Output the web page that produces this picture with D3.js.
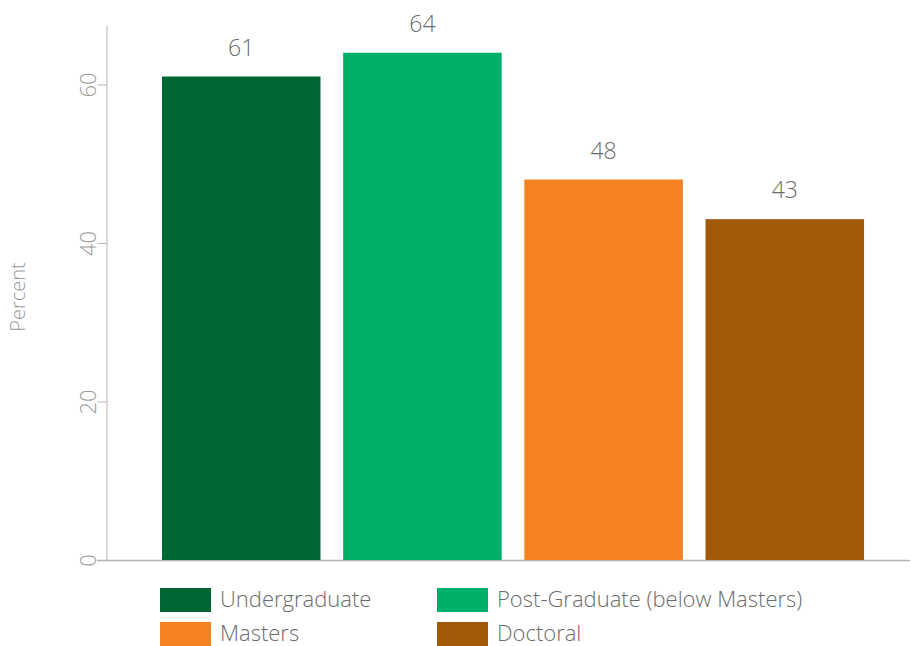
<!DOCTYPE html>
<html>
<head>
<meta charset="utf-8">
<script src="https://cdn.jsdelivr.net/npm/d3@7"></script>
<style>
  body { margin: 0; background: #fff; }
  svg text { font-family: "Open Sans", "Noto Sans", sans-serif; }
</style>
</head>
<body>
<script>
const categories = ["Undergraduate", "Post-Graduate (below Masters)", "Masters", "Doctoral"];
const values = [61, 64, 48, 43];
const colors = ["#006633", "#00b068", "#f58220", "#a05a08"];
const yTicks = [0, 20, 40, 60];

const width = 911;
const height = 646;

const svg = d3
  .select("body")
  .append("svg")
  .attr("width", width)
  .attr("height", height);

const x = d3.scaleBand().domain(categories).range([150, 876]).paddingInner(0.125).paddingOuter(0.066);
const y = d3.scaleLinear().domain([0, 67.5]).range([560, 25]);

// y axis
const yAxis = svg
  .append("g")
  .attr("transform", "translate(106.5,0)")
  .call(d3.axisLeft(y).tickValues(yTicks).tickSize(9).tickSizeOuter(0));
yAxis.select(".domain").attr("stroke", "#b3b3b3");
yAxis.selectAll(".tick line").attr("stroke", "#b3b3b3");
yAxis
  .selectAll(".tick text")
  .attr("transform", "rotate(-90)")
  .attr("x", 0)
  .attr("y", -11)
  .attr("dy", "0")
  .attr("text-anchor", "middle")
  .attr("fill", "#9a9a9a")
  .style("font-size", "22px")
  .style("font-weight", "300");

// x baseline
svg
  .append("line")
  .attr("x1", 97)
  .attr("x2", 910)
  .attr("y1", 560.5)
  .attr("y2", 560.5)
  .attr("stroke", "#b3b3b3")
  .attr("stroke-width", 1.5);

svg
  .append("text")
  .attr("transform", "translate(25,297) rotate(-90)")
  .attr("text-anchor", "middle")
  .attr("fill", "#9a9a9a")
  .style("font-size", "20px")
  .style("font-weight", "300")
  .text("Percent");

svg
  .selectAll(".bar")
  .data(values)
  .enter()
  .append("rect")
  .attr("class", "bar")
  .attr("x", (d, i) => x(categories[i]))
  .attr("y", (d) => y(d))
  .attr("width", x.bandwidth())
  .attr("height", (d) => y(0) - y(d))
  .attr("fill", (d, i) => colors[i]);

svg
  .selectAll(".label")
  .data(values)
  .enter()
  .append("text")
  .attr("class", "label")
  .attr("x", (d, i) => x(categories[i]) + x.bandwidth() / 2)
  .attr("y", (d) => y(d) - 21)
  .attr("text-anchor", "middle")
  .attr("fill", "#6b6b6b")
  .style("font-size", "23px")
  .style("font-weight", "300")
  .text((d) => d);

// legend
const legend = svg
  .selectAll(".legend")
  .data(categories)
  .enter()
  .append("g")
  .attr("class", "legend")
  .attr("transform", (d, i) => "translate(" + (160 + (i % 2) * 277) + "," + (588 + Math.floor(i / 2) * 34) + ")");

legend
  .append("rect")
  .attr("width", 51)
  .attr("height", 24)
  .attr("fill", (d, i) => colors[i]);

legend
  .append("text")
  .attr("x", 60)
  .attr("y", 19)
  .attr("fill", "#6b6b6b")
  .style("font-size", "22px")
  .style("font-weight", "300")
  .text((d) => d);
</script>
</body>
</html>
